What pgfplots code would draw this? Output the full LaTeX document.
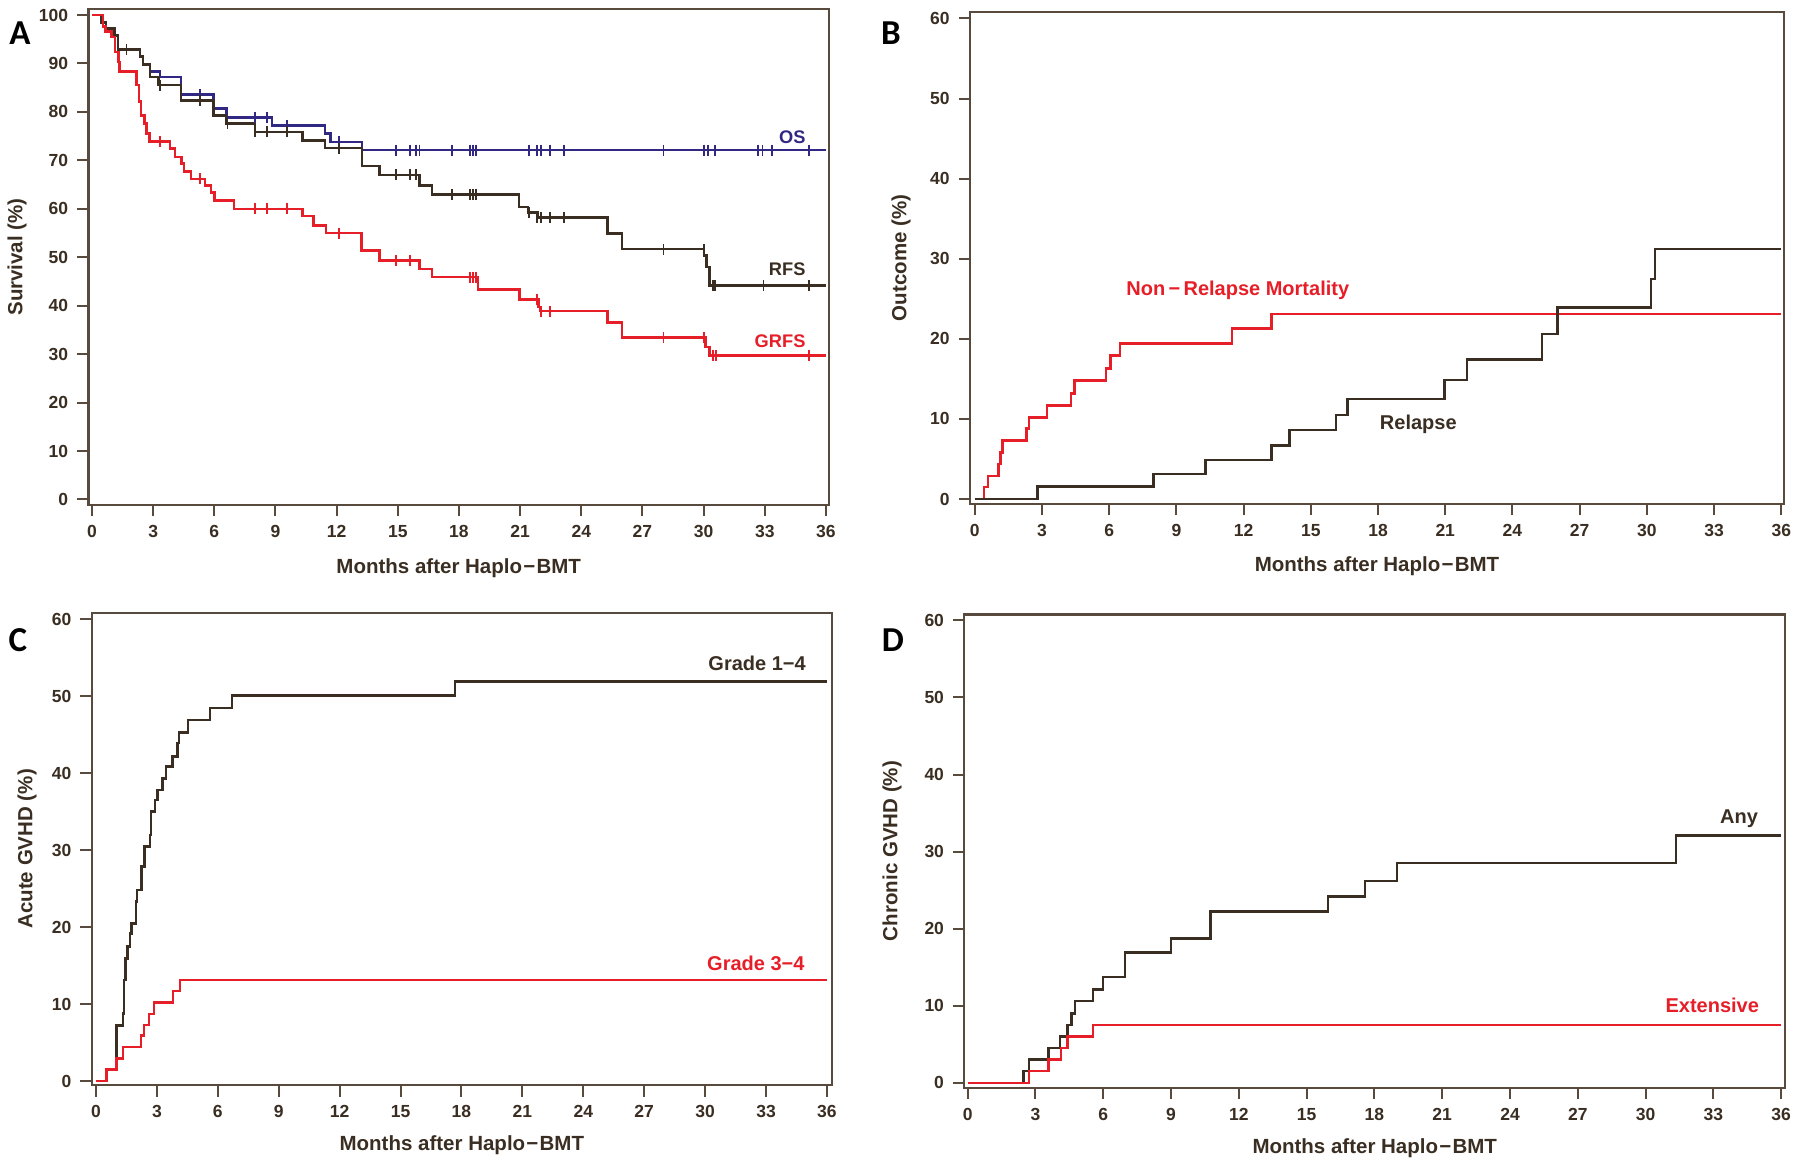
\documentclass[border=0pt]{standalone}
\usepackage{fontspec}
\setmainfont{Liberation Sans}
\newfontfamily\carlito{Carlito}
\usepackage{pgfplots}
\pgfplotsset{compat=1.18}
\definecolor{framec}{RGB}{88,74,60}
\definecolor{dk}{RGB}{58,46,34}
\definecolor{rd}{RGB}{230,30,40}
\definecolor{bl}{RGB}{48,40,130}
\pgfplotsset{
  km/.style={
    scale only axis,
    axis line style={framec, line width=0.9pt},
    tick style={framec, line width=0.8pt},
    tick align=outside,
    major tick length=4.6pt,
    xtick pos=left, ytick pos=left,
    xtick={0,3,...,36},
    tick label style={font=\fontsize{7}{8}\selectfont\bfseries, text=dk},
    /pgf/number format/assume math mode=true,
    label style={font=\fontsize{8.2}{10}\selectfont\bfseries, text=dk},
    x label style={at={(axis description cs:0.5,-0.127)}, anchor=center},
    xlabel={Months after Haplo\kern0.5pt−\kern0.5pt BMT},
    every axis plot/.append style={line width=1pt, const plot},
  },
  cens/.style={only marks, mark=|, mark size=2.2pt, mark options={line width=0.7pt}},
}
\newcommand{\lbl}{\fontsize{8}{9.6}\selectfont\bfseries}
\begin{document}
\begin{tikzpicture}
\path[use as bounding box] (0,0) rectangle (720pt,466.4pt);
% ---------------- A ----------------
\begin{axis}[km, at={(35.4pt,264.4pt)}, anchor=south west,
  width=296.2pt, height=198.4pt,
  xmin=-0.17, xmax=36.15, ymin=-1.14, ymax=101.24,
  ytick={0,10,...,100},
  ylabel={Survival (\%)},
  y label style={at={(axis description cs:-0.0966,0.5)}, anchor=center}]
\addplot[bl] coordinates {(0,100)(0.47,98.5)(0.7,97.2)(1.1,95.8)(1.27,92.9)(2.36,91.4)(2.5,89.8)(2.85,88.3)(3.34,87.2)(4.37,83.6)(5.96,80.7)(6.61,78.8)(8.82,77.2)(11.44,75.5)(11.69,73.8)(13.24,72.1)(36,72.1)};
\addplot[bl, cens] coordinates {(5.3,83.6)(6.65,78.8)(8.0,78.8)(8.58,78.8)(9.56,77.2)(12.1,73.8)(14.9,72.1)(15.6,72.1)(15.9,72.1)(16.07,72.1)(17.66,72.1)(18.53,72.1)(18.68,72.1)(18.85,72.1)(21.43,72.1)(21.84,72.1)(22.04,72.1)(22.46,72.1)(23.15,72.1)(28.03,72.1)(30.03,72.1)(30.2,72.1)(30.55,72.1)(32.68,72.1)(32.89,72.1)(33.35,72.1)(35.18,72.1)};
\addplot[dk] coordinates {(0,100)(0.47,98.5)(0.7,97.2)(1.1,95.8)(1.27,92.9)(2.36,91.4)(2.5,89.8)(2.85,87.2)(3.26,85.5)(4.37,82.4)(5.96,79.3)(6.61,77.6)(8.0,75.9)(10.33,74.1)(11.44,72.5)(13.24,68.8)(14.1,67.0)(16.07,64.8)(16.67,62.9)(20.94,60.4)(21.38,59.2)(21.84,58.2)(25.28,54.9)(26.0,51.65)(30.03,50.4)(30.15,48.0)(30.3,44.2)(36,44.2)};
\addplot[dk, cens] coordinates {(1.7,92.9)(3.34,85.5)(5.3,82.4)(6.65,77.6)(8.0,75.9)(8.58,75.9)(9.56,75.9)(12.1,72.5)(14.9,67.0)(15.6,67.0)(15.9,67.0)(17.66,62.9)(18.53,62.9)(18.68,62.9)(18.85,62.9)(21.43,59.2)(21.84,58.2)(22.04,58.2)(22.46,58.2)(23.15,58.2)(28.03,51.65)(30.03,51.65)(30.45,44.2)(30.55,44.2)(32.94,44.2)(35.18,44.2)};
\addplot[rd] coordinates {(0,100)(0.55,97.6)(0.67,96.6)(0.97,95.5)(1.13,92.4)(1.29,90.3)(1.34,88.3)(2.19,85.5)(2.3,82.1)(2.41,79.3)(2.57,77.6)(2.68,75.5)(2.82,73.9)(3.83,72.4)(4.08,70.7)(4.4,69.3)(4.52,67.7)(4.86,66.2)(5.55,64.8)(5.84,63.4)(6.01,61.7)(6.97,60.0)(10.33,58.5)(10.87,56.6)(11.47,55.0)(13.21,51.4)(14.11,49.3)(16.07,47.6)(16.67,45.9)(18.93,43.3)(20.97,41.3)(21.9,39.7)(22.0,38.9)(25.28,36.5)(26.0,33.4)(30.1,31.5)(30.3,29.75)(36,29.75)};
\addplot[rd, cens] coordinates {(3.34,73.9)(5.3,66.2)(8.0,60.0)(8.58,60.0)(9.56,60.0)(12.1,55.0)(14.9,49.3)(15.6,49.3)(18.53,45.9)(18.68,45.9)(18.85,45.9)(21.84,41.3)(22.04,38.9)(22.46,38.9)(28.03,33.4)(30.03,33.4)(30.45,29.75)(30.6,29.75)(35.18,29.75)};
\node[bl, font=\fontsize{7.3}{8.8}\selectfont\bfseries] at (axis cs:34.35,74.7) {OS};
\node[dk, font=\fontsize{7.3}{8.8}\selectfont\bfseries] at (axis cs:34.1,47.5) {RFS};
\node[rd, font=\fontsize{7.3}{8.8}\selectfont\bfseries] at (axis cs:33.75,32.6) {GRFS};
\end{axis}
% ---------------- B ----------------
\begin{axis}[km, at={(388pt,264.8pt)}, anchor=south west,
  width=325.6pt, height=196.9pt,
  xmin=-0.21, xmax=36.12, ymin=-0.62, ymax=60.84,
  ytick={0,10,...,60},
  ylabel={Outcome (\%)},
  y label style={at={(axis description cs:-0.0848,0.5)}, anchor=center}]
\addplot[rd] coordinates {(0,0)(0.42,1.5)(0.59,2.9)(1.06,4.4)(1.16,5.8)(1.24,7.3)(2.3,8.8)(2.42,10.2)(3.23,11.7)(4.3,13.2)(4.45,14.8)(5.86,16.3)(6.05,17.9)(6.49,19.4)(11.48,21.3)(13.24,23.1)(36,23.1)};
\addplot[dk] coordinates {(0,0)(2.81,1.55)(7.97,3.1)(10.31,4.9)(13.24,6.7)(14.06,8.6)(16.12,10.5)(16.64,12.5)(20.97,14.85)(21.96,17.4)(25.31,20.6)(26.0,23.9)(30.18,27.5)(30.37,31.2)(36,31.2)};
\node[rd, font=\lbl] at (axis cs:11.74,26.1) {Non\,−\,Relapse Mortality};
\node[dk, font=\lbl] at (axis cs:19.8,9.36) {Relapse};
\end{axis}
% ---------------- C ----------------
\begin{axis}[km, at={(36.68pt,32.4pt)}, anchor=south west,
  width=296.12pt, height=188.92pt,
  xmin=-0.21, xmax=36.25, ymin=-0.52, ymax=60.86,
  ytick={0,10,...,60},
  ylabel={Acute GVHD (\%)},
  y label style={at={(axis description cs:-0.0874,0.5)}, anchor=center},
  x label style={at={(axis description cs:0.5,-0.1285)}}]
\addplot[dk] coordinates {(0,0)(0.52,1.5)(1.02,7.2)(1.34,8.8)(1.39,13.1)(1.46,15.9)(1.56,17.5)(1.67,19.2)(1.75,20.5)(1.97,23.3)(2.03,24.8)(2.25,27.9)(2.38,30.5)(2.66,32.0)(2.7,35.0)(2.9,36.5)(3.02,37.8)(3.28,39.3)(3.44,40.9)(3.77,42.2)(4.02,43.9)(4.08,45.3)(4.54,46.9)(5.61,48.5)(6.7,50.1)(17.69,51.9)(36,51.9)};
\addplot[rd] coordinates {(0,0)(0.52,1.5)(1.02,2.9)(1.34,4.4)(2.21,5.9)(2.36,7.3)(2.62,8.7)(2.87,10.2)(3.8,11.7)(4.13,13.1)(36,13.1)};
\node[dk, font=\lbl] at (axis cs:32.56,54.3) {Grade 1−4};
\node[rd, font=\lbl] at (axis cs:32.5,15.3) {Grade 3−4};
\end{axis}
% ---------------- D ----------------
\begin{axis}[km, at={(385.72pt,31.32pt)}, anchor=south west,
  width=328.36pt, height=189.32pt,
  xmin=-0.15, xmax=36.18, ymin=-0.64, ymax=60.78,
  ytick={0,10,...,60},
  ylabel={Chronic GVHD (\%)},
  y label style={at={(axis description cs:-0.088,0.5)}, anchor=center}]
\addplot[dk] coordinates {(0,0)(2.47,1.5)(2.71,3.0)(3.57,4.5)(4.09,6.0)(4.41,7.5)(4.6,9.0)(4.75,10.6)(5.55,12.1)(5.99,13.7)(6.97,16.9)(9.0,18.7)(10.74,22.2)(15.94,24.2)(17.59,26.2)(18.99,28.5)(31.35,32.1)(36,32.1)};
\addplot[rd] coordinates {(0,0)(2.71,1.5)(3.57,3.0)(4.12,4.5)(4.41,6.0)(5.55,7.5)(36,7.5)};
\node[dk, font=\lbl] at (axis cs:34.14,34.3) {Any};
\node[rd, font=\lbl] at (axis cs:32.95,10.1) {Extensive};
\end{axis}
% panel letters
\node[font=\carlito\bfseries\fontsize{14}{16}\selectfont] at (8pt,453.2pt) {A};
\node[font=\carlito\bfseries\fontsize{14}{16}\selectfont] at (356.4pt,453.2pt) {B};
\node[font=\carlito\bfseries\fontsize{14}{16}\selectfont] at (7.2pt,210.4pt) {C};
\node[font=\carlito\bfseries\fontsize{14}{16}\selectfont] at (357.2pt,210.4pt) {D};
\end{tikzpicture}
\end{document}
